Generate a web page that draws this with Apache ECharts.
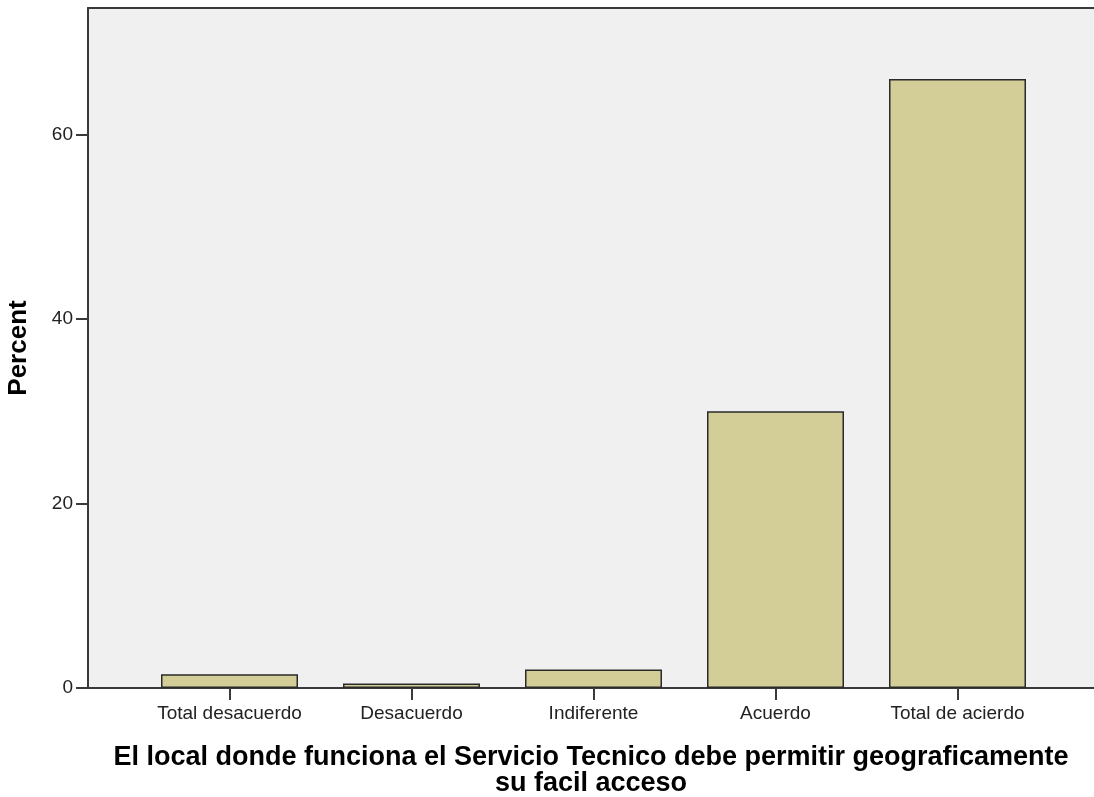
<!DOCTYPE html>
<html>
<head>
<meta charset="utf-8">
<script src="https://cdn.jsdelivr.net/npm/echarts@6/dist/echarts.min.js"></script>
<style>
  html, body { margin: 0; padding: 0; background: #fff; }
  #chart { width: 1094px; height: 797px; }
</style>
</head>
<body>
<div id="chart"></div>
<script>
// data
const categories = ['Total desacuerdo', 'Desacuerdo', 'Indiferente', 'Acuerdo', 'Total de acierdo']
const percents = [1.5, 0.5, 2.0, 30.0, 66.0]
const yTicks = [0, 20, 40, 60]
const yMax = 73.7

const font = '"Liberation Sans", Arial, sans-serif'
const lineClr = '#3a3a3a'

const chart = echarts.init(document.getElementById('chart'))

const option = {
  animation: false,
  grid: [
    // frame + background
    { left: 88, top: 8, right: 0, bottom: 109, show: true, backgroundColor: '#f0f0f0', borderWidth: 0, outerBoundsMode: 'none' },
    // bars (SPSS leaves padding at both ends)
    { left: 138.5, top: 8, right: 45.5, bottom: 109, outerBoundsMode: 'none' }
  ],
  xAxis: [
    {
      gridIndex: 0,
      type: 'value',
      min: 0,
      max: 1,
      axisLine: { show: true, lineStyle: { color: lineClr, width: 2 } },
      axisTick: { show: false },
      axisLabel: { show: false },
      splitLine: { show: false },
      name: 'El local donde funciona el Servicio Tecnico debe permitir geograficamente\nsu facil acceso',
      nameLocation: 'middle',
      nameGap: 57,
      nameTextStyle: { fontFamily: font, fontSize: 27, fontWeight: 'bold', color: '#000', lineHeight: 26 }
    },
    {
      // top border
      gridIndex: 0,
      type: 'value',
      position: 'top',
      min: 0,
      max: 1,
      axisLine: { show: true, lineStyle: { color: lineClr, width: 2 } },
      axisTick: { show: false },
      axisLabel: { show: false },
      splitLine: { show: false }
    },
    {
      gridIndex: 1,
      type: 'category',
      data: categories,
      axisLine: { show: false },
      axisTick: { show: true, interval: 0, alignWithLabel: true, length: 12, lineStyle: { color: lineClr, width: 2 } },
      axisLabel: { interval: 0, fontFamily: font, fontSize: 19, color: '#222', margin: 16 }
    }
  ],
  yAxis: [
    {
      gridIndex: 0,
      type: 'value',
      min: 0,
      max: yMax,
      axisLine: { show: true, lineStyle: { color: lineClr, width: 2 } },
      axisTick: { show: true, length: 12, customValues: yTicks, lineStyle: { color: lineClr, width: 2 } },
      axisLabel: { fontFamily: font, fontSize: 19, color: '#222', margin: 15, customValues: yTicks },
      splitLine: { show: false },
      name: 'Percent',
      nameLocation: 'middle',
      nameGap: 56,
      nameTextStyle: { fontFamily: font, fontSize: 26, fontWeight: 'bold', color: '#000' }
    },
    {
      gridIndex: 1,
      type: 'value',
      min: 0,
      max: yMax,
      show: false
    }
  ],
  series: [
    {
      type: 'bar',
      xAxisIndex: 2,
      yAxisIndex: 1,
      data: percents,
      barWidth: 137,
      itemStyle: { color: '#d3ce97', borderColor: '#2a2a2a', borderWidth: 1.5 }
    }
  ]
}

chart.setOption(option)
</script>
</body>
</html>
